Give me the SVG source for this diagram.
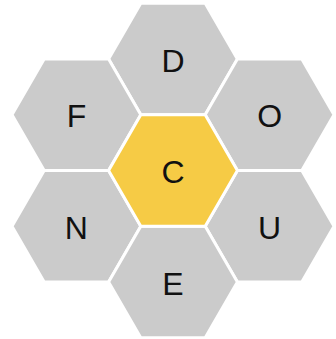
<svg xmlns="http://www.w3.org/2000/svg" xmlns:xlink="http://www.w3.org/1999/xlink" width="336" height="339" viewBox="0 0 336 339">
<style>
.hex{fill:#cbcbcb;stroke:#ffffff;stroke-width:3;stroke-linejoin:miter}
.center .hex{fill:#f6cb45}
.lbl{font-family:"Liberation Sans","Open Sans",Arial,sans-serif;font-size:32px;fill:#111111;text-anchor:middle}
</style>
<defs>
<polygon id="h" points="64.4,0 32.2,55.77 -32.2,55.77 -64.4,0 -32.2,-55.77 32.2,-55.77"/>
</defs>
<rect width="336" height="339" fill="#ffffff"/>
<g id="connectors"></g>
<g id="node-D" transform="translate(173,59)"><use xlink:href="#h" class="hex"/><text class="lbl" x="0" y="12.5">D</text></g>
<g id="node-F" transform="translate(76.4,114.7)"><use xlink:href="#h" class="hex"/><text class="lbl" x="0" y="12.5">F</text></g>
<g id="node-O" transform="translate(269.6,114.7)"><use xlink:href="#h" class="hex"/><text class="lbl" x="0" y="12.5">O</text></g>
<g id="node-N" transform="translate(76.4,226.3)"><use xlink:href="#h" class="hex"/><text class="lbl" x="0" y="12.5">N</text></g>
<g id="node-U" transform="translate(269.6,226.3)"><use xlink:href="#h" class="hex"/><text class="lbl" x="0" y="12.5">U</text></g>
<g id="node-E" transform="translate(173,282)"><use xlink:href="#h" class="hex"/><text class="lbl" x="0" y="12.5">E</text></g>
<g id="node-C" class="center" transform="translate(173,170.5)"><use xlink:href="#h" class="hex"/><text class="lbl" x="0" y="12.5">C</text></g>
</svg>
